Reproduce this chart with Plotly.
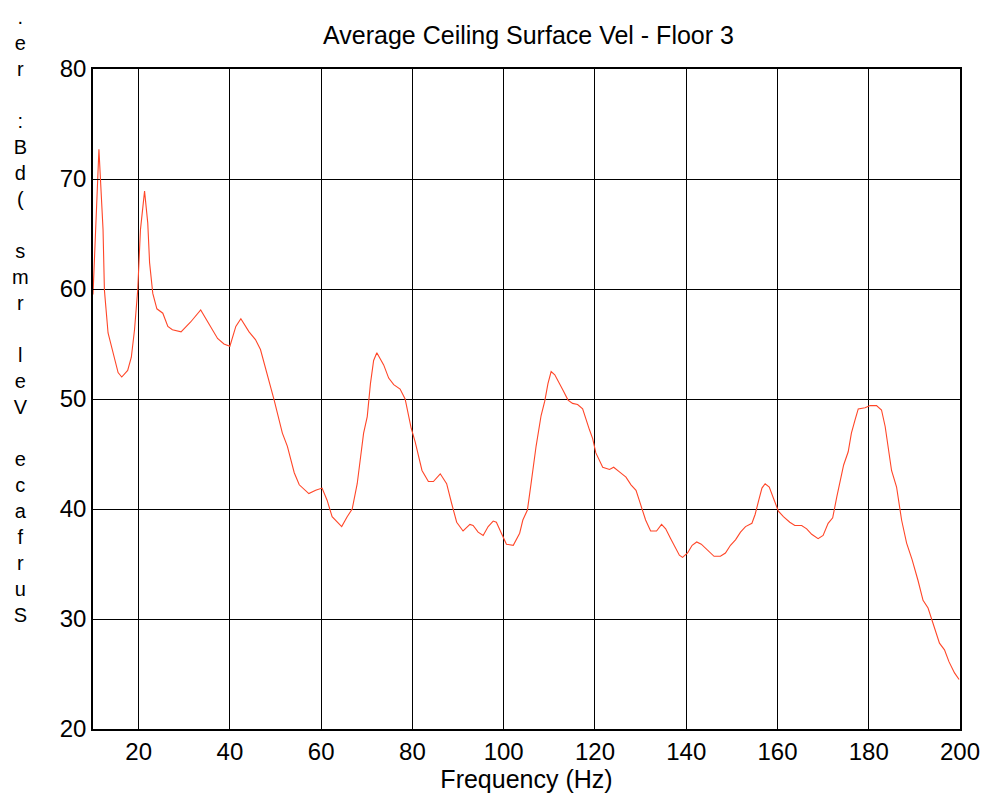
import plotly.graph_objects as go

# Average ceiling surface velocity spectrum, floor 3
freq_hz = [10.0, 11.3, 12.2, 12.5, 13.3, 14.4, 15.5, 16.3, 17.6, 18.4, 19.1, 19.8, 20.4, 21.3,
           22.0, 22.4, 23.1, 24.0, 25.3, 26.4, 27.4, 29.3, 31.4, 33.6, 35.1, 37.3, 38.7, 40.0,
           41.3, 42.4, 44.2, 45.6, 46.7, 47.5, 48.6, 49.7, 51.5, 52.6, 54.1, 55.2, 57.3, 58.8,
           60.2, 61.3, 62.4, 63.5, 64.5, 65.7, 66.8, 67.9, 69.3, 70.1, 70.8, 71.5, 72.2, 73.7,
           74.8, 75.9, 77.3, 78.4, 79.7, 80.6, 82.1, 83.5, 84.6, 86.1, 87.5, 88.6, 89.7, 91.1,
           92.6, 93.3, 94.4, 95.5, 96.6, 97.7, 98.4, 99.5, 100.6, 102.1, 103.5, 104.2, 105.2,
           106.0, 107.1, 108.2, 109.0, 109.7, 110.4, 111.2, 111.9, 113.0, 114.1, 115.1, 116.2,
           117.3, 118.8, 119.5, 120.2, 121.7, 123.2, 124.1, 125.3, 126.8, 127.9, 129.0, 129.7,
           130.4, 131.1, 132.2, 133.5, 134.6, 135.5, 136.6, 137.5, 138.5, 139.2, 140.3, 141.3,
           142.3, 143.3, 144.6, 146.1, 147.5, 148.6, 149.7, 150.8, 151.9, 153.0, 154.4, 155.1,
           155.9, 156.6, 157.3, 158.2, 159.1, 160.2, 161.3, 162.7, 163.8, 165.3, 166.4, 167.5,
           168.9, 170.0, 171.1, 172.1, 173.0, 173.7, 174.5, 175.5, 176.2, 177.0, 177.7, 179.2,
           180.3, 181.7, 182.8, 183.6, 184.3, 185.0, 186.1, 187.2, 188.3, 189.5, 190.8, 191.9,
           193.0, 194.1, 195.5, 196.6, 197.6, 198.8, 199.8]
vel_db = [59.5, 72.7, 65.4, 59.9, 56.0, 54.2, 52.4, 52.0, 52.6, 53.8, 56.3, 59.9, 65.4, 68.9,
          66.0, 62.4, 59.6, 58.2, 57.8, 56.6, 56.3, 56.1, 57.0, 58.1, 57.0, 55.5, 55.0, 54.8,
          56.6, 57.3, 56.1, 55.4, 54.5, 53.3, 51.5, 49.9, 46.9, 45.7, 43.3, 42.2, 41.4, 41.7,
          41.9, 40.8, 39.3, 38.8, 38.4, 39.3, 40.0, 42.3, 46.9, 48.4, 51.4, 53.5, 54.2, 53.1,
          51.9, 51.3, 50.9, 50.0, 47.4, 46.1, 43.5, 42.5, 42.5, 43.2, 42.3, 40.5, 38.8, 38.0,
          38.6, 38.5, 37.9, 37.6, 38.4, 38.9, 38.8, 37.8, 36.8, 36.7, 37.8, 39.0, 39.9,
          42.3, 45.7, 48.5, 49.8, 51.4, 52.5, 52.2, 51.6, 50.8, 49.9, 49.6, 49.5,
          49.1, 47.2, 46.4, 45.1, 43.8, 43.6, 43.8, 43.4, 42.9, 42.2, 41.7, 40.8,
          40.0, 39.0, 38.0, 38.0, 38.6, 38.2, 37.3, 36.6, 35.8, 35.6, 36.0, 36.7,
          37.0, 36.8, 36.3, 35.7, 35.7, 36.0, 36.7, 37.2, 37.9, 38.4, 38.7, 39.5,
          40.8, 41.9, 42.3, 42.0, 41.0, 39.8, 39.3, 38.8, 38.5, 38.5, 38.2, 37.7,
          37.3, 37.6, 38.7, 39.2, 41.1, 42.6, 44.0, 45.2, 46.9, 48.1, 49.1, 49.2,
          49.4, 49.4, 49.0, 47.5, 45.7, 43.5, 42.0, 39.0, 36.9, 35.4, 33.5, 31.7,
          31.0, 29.6, 27.8, 27.2, 26.1, 25.1, 24.5]

title_text = "Average Ceiling Surface Vel - Floor 3"
x_title = "Frequency (Hz)"
# y-axis label, stacked one glyph per line from the top
y_label_chars = [".", "e", "r", " ", ":", "B", "d", "(", " ", "s", "m", "r", " ", "l", "e", "V",
                 " ", "e", "c", "a", "f", "r", "u", "S"]

FONT = "Liberation Sans, Arial, Helvetica, sans-serif"
FS = 25
W, H = 992, 799
L, R, T, B = 93, 28, 69, 70
plot_w = W - L - R
plot_h = H - T - B

fig = go.Figure()
fig.add_trace(go.Scatter(x=freq_hz, y=vel_db, mode="lines",
                         line=dict(color="rgb(255,70,40)", width=1.1),
                         showlegend=False, hoverinfo="x+y"))

fig.add_annotation(text="<br>".join(y_label_chars), xref="paper", yref="paper",
                   x=(20 - L) / plot_w, y=(H - B - 316) / plot_h,
                   xanchor="center", yanchor="middle", align="center", showarrow=False,
                   font=dict(family=FONT, size=20, color="black"))

axis_common = dict(showgrid=True, gridcolor="black", gridwidth=1,
                   showline=True, linecolor="black", linewidth=1.5, mirror=True,
                   ticks="inside", ticklen=6, tickcolor="black", zeroline=False,
                   tickfont=dict(family=FONT, size=FS - 1, color="black"))

fig.update_layout(
    width=W, height=H,
    margin=dict(l=L, r=R, t=T, b=B, pad=0),
    paper_bgcolor="white", plot_bgcolor="white",
    title=dict(text=title_text, x=(L + plot_w / 2) / W, xanchor="center",
               y=1 - 35 / H, yanchor="middle",
               font=dict(family=FONT, size=FS, color="black")),
    xaxis=dict(range=[10, 200], tick0=0, dtick=20,
               title=dict(text=x_title, standoff=2,
                          font=dict(family=FONT, size=FS, color="black")),
               **axis_common),
    yaxis=dict(range=[20, 80], tick0=0, dtick=10, **axis_common),
)

fig.write_html("out.html")
